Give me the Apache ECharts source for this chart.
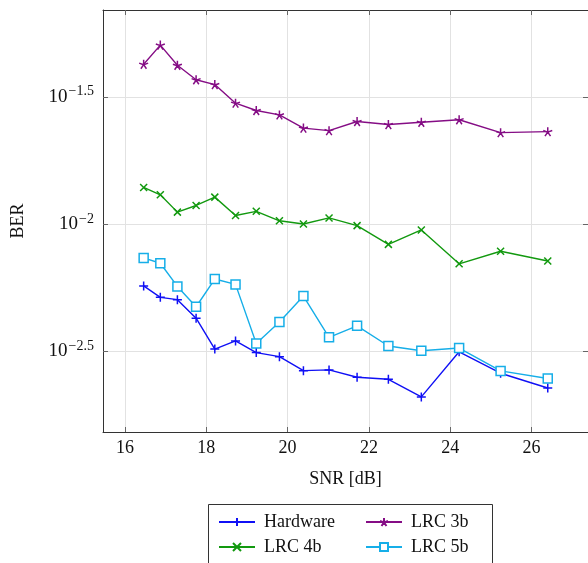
<!DOCTYPE html>
<html>
<head>
<meta charset="utf-8">
<script src="https://cdn.jsdelivr.net/npm/echarts@6/dist/echarts.min.js"></script>
<style>
    html, body { margin: 0; padding: 0; background: #fff; }
    #chart { width: 588px; height: 563px; }
</style>
</head>
<body>
<div id="chart"></div>
<script>
// ============================
// data
// ============================
const snr = [16.46, 16.87, 17.29, 17.75, 18.21, 18.72, 19.23, 19.80, 20.39, 21.02, 21.71, 22.48, 23.29, 24.22, 25.24, 26.40];

const berHardware = [0.005715, 0.005152, 0.005047, 0.004266, 0.003228, 0.003475, 0.003126, 0.003013,
    0.002655, 0.002673, 0.002500, 0.002455, 0.002094, 0.003148, 0.002594, 0.002270];
const berLrc3b = [0.04246, 0.05047, 0.04207, 0.03690, 0.03532, 0.02985, 0.02793, 0.02685,
    0.02382, 0.02328, 0.02529, 0.02460, 0.02512, 0.02570, 0.02286, 0.02307];
const berLrc4b = [0.01393, 0.01303, 0.01114, 0.01183, 0.01276, 0.01081, 0.01122, 0.01030,
    0.01000, 0.01057, 0.00986, 0.00832, 0.00948, 0.00698, 0.00782, 0.00716];
const berLrc5b = [0.007362, 0.007015, 0.005689, 0.004732, 0.006081, 0.005794, 0.003396, 0.004121,
    0.005212, 0.003589, 0.003981, 0.003319, 0.003177, 0.003258, 0.002649, 0.002472];

const xTicks = [16, 18, 20, 22, 24, 26];
const yTickExps = [-2.5, -2, -1.5];   // BER = 10^exp

// ============================
// chart
// ============================
const serif = '"Liberation Serif", "DejaVu Serif", serif';
const toPoints = ber => snr.map((x, i) => [x, Math.log10(ber[i])]);

const chart = echarts.init(document.getElementById('chart'));

function makeXAxis(pos) {
    return {
        type: 'value', position: pos, min: 15.46, max: 27.39,
        axisLine: { show: true, onZero: false, lineStyle: { color: '#333', width: 1 } },
        axisTick: { show: true, inside: true, length: 5, customValues: xTicks, lineStyle: { color: '#666' } },
        axisLabel: pos === 'bottom'
            ? { customValues: xTicks, margin: 7, color: '#111', fontFamily: serif, fontSize: 18 }
            : { show: false },
        splitLine: { show: pos === 'bottom', lineStyle: { color: '#e2e2e2', width: 1 } }
    };
}

function makeYAxis(pos) {
    return {
        type: 'value', position: pos, min: -2.817, max: -1.159,
        axisLine: { show: true, onZero: false, lineStyle: { color: '#333', width: 1 } },
        axisTick: { show: true, inside: true, length: 5, customValues: yTickExps, lineStyle: { color: '#666' } },
        axisLabel: pos === 'left' ? {
            customValues: yTickExps, margin: 9, color: '#111',
            formatter: v => '{b|10}{s|\u2212' + Math.abs(v) + '}',
            rich: {
                b: { fontFamily: serif, fontSize: 19, color: '#111' },
                s: { fontFamily: serif, fontSize: 14, color: '#111', verticalAlign: 'bottom', padding: [0, 0, 10, 1] }
            }
        } : { show: false },
        splitLine: { show: pos === 'left', lineStyle: { color: '#e2e2e2', width: 1 } }
    };
}

const markPlus = 'path://M0,5L10,5M5,0L5,10';
const markCross = 'path://M0,0L10,10M0,10L10,0';
const markStar = 'path://M5,5L5,0M5,5L9.76,3.45M5,5L7.94,9.05M5,5L2.06,9.05M5,5L0.24,3.45';

function lineSeries(name, ber, color, symbol, size, filled) {
    return {
        name: name, type: 'line', data: toPoints(ber),
        symbol: symbol, symbolSize: size, showAllSymbol: true,
        lineStyle: { color: color, width: 1.4 },
        itemStyle: { color: filled ? color : '#fff', borderColor: color, borderWidth: 1.5 },
        emphasis: { disabled: true },
        z: 3
    };
}

const legendText = { fontFamily: serif, fontSize: 18, color: '#111', padding: [0, 0, 0, 4] };

chart.setOption({
    animation: false,
    grid: { left: 103, right: -4, top: 10, bottom: 131 },
    xAxis: [
        Object.assign(makeXAxis('bottom'), { name: 'SNR [dB]', nameLocation: 'middle', nameGap: 38,
            nameTextStyle: { fontFamily: serif, fontSize: 18, color: '#111' } }),
        makeXAxis('top')
    ],
    yAxis: [
        Object.assign(makeYAxis('left'), { name: 'BER', nameLocation: 'middle', nameGap: 76,
            nameTextStyle: { fontFamily: serif, fontSize: 18, color: '#111' } }),
        makeYAxis('right')
    ],
    legend: [
        { orient: 'vertical', left: 213, top: 508, itemWidth: 36, itemHeight: 10, itemGap: 7,
          data: ['Hardware', 'LRC 4b'], textStyle: legendText, selectedMode: false },
        { orient: 'vertical', left: 360, top: 508, itemWidth: 36, itemHeight: 10, itemGap: 7,
          data: ['LRC 3b', 'LRC 5b'], textStyle: legendText, selectedMode: false }
    ],
    graphic: [{
        type: 'rect', left: 206, top: 502, silent: true,
        shape: { width: 284, height: 70 },
        style: { fill: 'none', stroke: '#333', lineWidth: 1 }
    }],
    series: [
        lineSeries('Hardware', berHardware, '#1010f5', markPlus, 9, true),
        lineSeries('LRC 3b', berLrc3b, '#850d85', markStar, 9, true),
        lineSeries('LRC 4b', berLrc4b, '#12990f', markCross, 7, true),
        lineSeries('LRC 5b', berLrc5b, '#16aee8', 'rect', 9, false)
    ]
});
</script>
</body>
</html>
